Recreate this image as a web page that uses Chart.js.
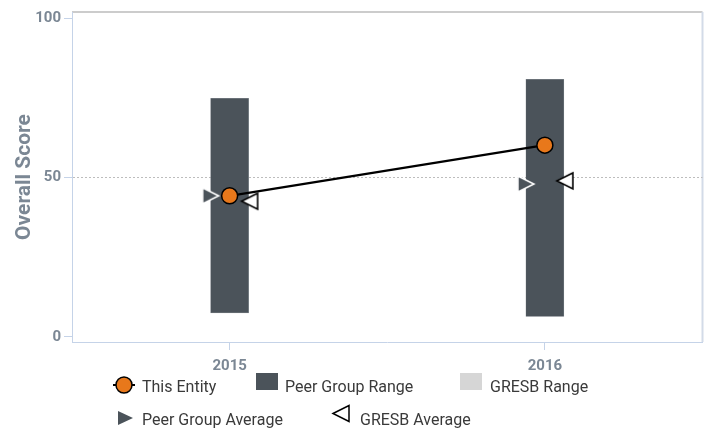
<!DOCTYPE html>
<html>
<head>
<meta charset="utf-8">
<script src="https://cdn.jsdelivr.net/npm/chart.js@4"></script>
<style>
  body { margin: 0; background: #fff; }
  #wrap { position: relative; width: 712px; height: 430px; }
  #legend { position: absolute; left: 0; top: 0; }
</style>
</head>
<body>
<div id="wrap">
  <canvas id="chart" width="712" height="430"></canvas>
  <svg id="legend" width="712" height="430" xmlns="http://www.w3.org/2000/svg"></svg>
</div>
<script>
// chart data
const years = ["2015", "2016"];
const peerLow = [7.5, 6.4];
const peerHigh = [74.9, 80.9];
const entityScore = [44.3, 60.2];
const peerAverage = [44.3, 48];
const gresbAverage = [42.6, 49];
const yTicks = [0, 50, 100];

const axisColor = "#7b8794";
const barColor = "#4b535a";

// triangle marker drawn off-centre so it sits beside the bar
function triangleMarker(dir, fill, stroke, x0, x1, h) {
  const c = document.createElement("canvas");
  c.width = 64;
  c.height = 24;
  const g = c.getContext("2d");
  const cx = 32, cy = 12;
  g.beginPath();
  if (dir === "right") {
    g.moveTo(cx + x0, cy - h / 2);
    g.lineTo(cx + x1, cy);
    g.lineTo(cx + x0, cy + h / 2);
  } else {
    g.moveTo(cx + x1, cy - h / 2);
    g.lineTo(cx + x0, cy);
    g.lineTo(cx + x1, cy + h / 2);
  }
  g.closePath();
  g.fillStyle = fill;
  g.fill();
  g.lineWidth = 1.6;
  g.strokeStyle = stroke;
  g.stroke();
  return c;
}

const peerMarker = triangleMarker("right", barColor, "#ffffff", -27, -11, 16);
const gresbMarker = triangleMarker("left", "#ffffff", "#000000", 12, 28, 16);

// top and right frame of the plot
const framePlugin = {
  id: "frame",
  beforeDraw(chart) {
    const { ctx, chartArea: a } = chart;
    ctx.save();
    ctx.lineWidth = 2;
    ctx.strokeStyle = "#cccccc";
    ctx.beginPath();
    ctx.moveTo(a.left, a.top);
    ctx.lineTo(a.right, a.top);
    ctx.stroke();
    ctx.strokeStyle = "#d3dbe8";
    ctx.beginPath();
    ctx.moveTo(a.right, a.top);
    ctx.lineTo(a.right, a.bottom);
    ctx.stroke();
    ctx.restore();
  },
};

const ctx = document.getElementById("chart").getContext("2d");
new Chart(ctx, {
  type: "bar",
  data: {
    labels: years,
    datasets: [
      {
        type: "line",
        label: "This Entity",
        data: entityScore,
        borderColor: "#000",
        borderWidth: 2.2,
        backgroundColor: "#e8781b",
        pointBackgroundColor: "#e8781b",
        pointBorderColor: "#000",
        pointBorderWidth: 1.5,
        pointRadius: 8,
        order: 0,
      },
      {
        type: "line",
        label: "Peer Group Average",
        data: peerAverage,
        showLine: false,
        pointStyle: peerMarker,
        order: 1,
      },
      {
        type: "line",
        label: "GRESB Average",
        data: gresbAverage,
        showLine: false,
        pointStyle: gresbMarker,
        order: 1,
      },
      {
        label: "Peer Group Range",
        data: years.map((y, i) => [peerLow[i], peerHigh[i]]),
        backgroundColor: barColor,
        borderColor: "#8a9096",
        borderWidth: 0.5,
        borderSkipped: false,
        barThickness: 38,
        order: 3,
      },
    ],
  },
  options: {
    responsive: false,
    animation: false,
    layout: { padding: { left: 0, right: 7, top: 10, bottom: 0 } },
    plugins: {
      legend: { display: false },
      tooltip: { enabled: false },
    },
    scales: {
      x: {
        offset: true,
        afterFit(scale) { scale.height = 88; },
        grid: {
          offset: false,
          color: "rgba(0,0,0,0)",
          tickColor: "#c5d3e8",
          tickLength: 8,
        },
        border: { color: "#c5d3e8", width: 1 },
        ticks: {
          color: axisColor,
          padding: 7,
          font: { family: "Roboto", size: 15, weight: "bold" },
        },
      },
      y: {
        min: -1.6,
        max: 102,
        afterBuildTicks(scale) {
          scale.ticks = yTicks.map((v) => ({ value: v }));
        },
        afterFit(scale) { scale.width = 72; },
        grid: {
          color: (c) => (c.tick && c.tick.value === 50 ? "#bdbdbd" : "rgba(0,0,0,0)"),
          tickColor: "#c5d3e8",
          tickBorderDash: [],
          tickLength: 8,
        },
        border: { color: "#c5d3e8", width: 1, dash: [2, 2] },
        ticks: {
          color: axisColor,
          padding: 3,
          font: { family: "Roboto", size: 15, weight: "bold" },
        },
        title: {
          display: true,
          text: "Overall Score",
          color: axisColor,
          padding: { top: 12, bottom: 0 },
          font: { family: "Roboto", size: 21, weight: "bold" },
        },
      },
    },
  },
  plugins: [framePlugin],
});

// legend below the chart
const svgNS = "http://www.w3.org/2000/svg";
const legendSvg = document.getElementById("legend");
function add(tag, attrs, text) {
  const el = document.createElementNS(svgNS, tag);
  for (const k in attrs) el.setAttribute(k, attrs[k]);
  if (text) el.textContent = text;
  legendSvg.appendChild(el);
}
function label(x, y, text) {
  add("text", {
    x: x, y: y, "dominant-baseline": "central",
    "font-family": "Roboto", "font-size": 16, fill: "#3a3a3a",
  }, text);
}
add("line", { x1: 113, y1: 385, x2: 135, y2: 385, stroke: "#000", "stroke-width": 2 });
add("circle", { cx: 124, cy: 385, r: 8, fill: "#e8781b", stroke: "#000", "stroke-width": 1.5 });
label(142, 386, "This Entity");
add("rect", { x: 256, y: 373, width: 22, height: 17, fill: barColor });
label(285, 386, "Peer Group Range");
add("rect", { x: 460, y: 373, width: 22, height: 17, fill: "#d6d6d6" });
label(490, 386, "GRESB Range");
add("path", { d: "M118 411 L133 418 L118 425 Z", fill: barColor });
label(142, 419, "Peer Group Average");
add("path", { d: "M333 413.5 L349 405.5 L349 421.5 Z", fill: "#fff", stroke: "#000", "stroke-width": 1.5 });
label(360, 419, "GRESB Average");
</script>
</body>
</html>
